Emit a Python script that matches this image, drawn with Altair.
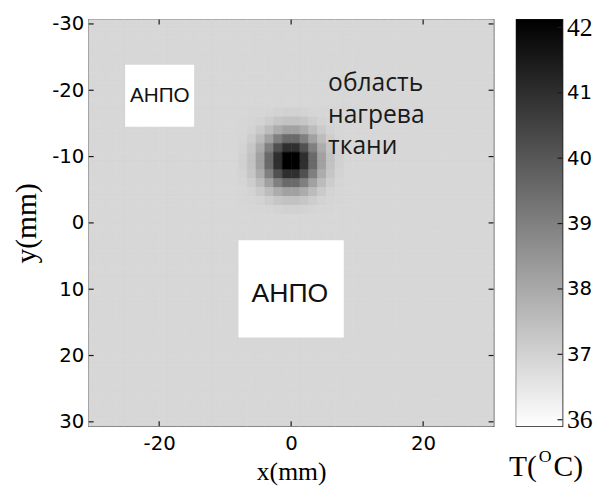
import altair as alt
import pandas as pd

# ---------------- data ----------------
# temperature grid: 46 x 46 cells, 4/3 mm step, centres from -30 to 30 mm
grid_start = -30.0
grid_step = 4.0 / 3.0
grid_n = 46
background_T = 36.95

# heated spot (12 x 12 cells), placed from row index 10 and column index 17
spot_row0 = 10
spot_col0 = 17
spot_patch = [
    [36.95, 36.96, 36.97, 36.99, 37.04, 37.08, 37.08, 37.04, 36.99, 36.97, 36.96, 36.95],
    [36.96, 36.98, 37.04, 37.18, 37.33, 37.44, 37.44, 37.33, 37.18, 37.04, 36.98, 36.96],
    [36.97, 37.04, 37.25, 37.58, 37.96, 38.20, 38.20, 37.96, 37.58, 37.25, 37.04, 36.97],
    [36.99, 37.18, 37.58, 38.20, 39.00, 39.50, 39.50, 39.00, 38.20, 37.58, 37.18, 36.99],
    [37.04, 37.33, 37.96, 39.00, 40.10, 40.90, 40.90, 40.10, 39.00, 37.96, 37.33, 37.04],
    [37.08, 37.44, 38.20, 39.50, 40.90, 42.00, 42.00, 40.90, 39.50, 38.20, 37.44, 37.08],
    [37.08, 37.44, 38.20, 39.50, 40.90, 42.00, 42.00, 40.90, 39.50, 38.20, 37.44, 37.08],
    [37.04, 37.33, 37.96, 39.00, 40.10, 40.90, 40.90, 40.10, 39.00, 37.96, 37.33, 37.04],
    [36.99, 37.18, 37.58, 38.20, 39.00, 39.50, 39.50, 39.00, 38.20, 37.58, 37.18, 36.99],
    [36.97, 37.04, 37.25, 37.58, 37.96, 38.20, 38.20, 37.96, 37.58, 37.25, 37.04, 36.97],
    [36.96, 36.98, 37.04, 37.18, 37.33, 37.44, 37.44, 37.33, 37.18, 37.04, 36.98, 36.96],
    [36.95, 36.96, 36.97, 36.99, 37.04, 37.08, 37.08, 37.04, 36.99, 36.97, 36.96, 36.95],
]

# white "АНПО" areas (mm)
anpo_x1 = [-25.15, -7.98]
anpo_x2 = [-14.70, 7.98]
anpo_y1 = [-23.83, 2.60]
anpo_y2 = [-14.48, 17.30]
anpo_label = "АНПО"
anpo_small_pos = [-19.9, -18.24]
anpo_big_pos = [-0.2, 11.95]

annotation_lines = ["область", "нагрева", "ткани"]
annotation_pos = [5.6, -19.83]
annotation_line_step = 4.7  # mm between baselines

x_ticks = [-20, 0, 20]
y_ticks = [-30, -20, -10, 0, 10, 20, 30]
cbar_ticks = [36, 37, 38, 39, 40, 41, 42]
T_range = [36, 42]
cbar_limits = [35.9, 42.12]
cbar_title_parts = ["T(", "O", "C)"]

x_title = "x(mm)"
y_title = "y(mm)"

# ---------------- tables ----------------
half = grid_step / 2
lim = grid_start - half
rows = []
for r in range(grid_n):
    for c in range(grid_n):
        T = background_T
        pr, pc = r - spot_row0, c - spot_col0
        if 0 <= pr < len(spot_patch) and 0 <= pc < len(spot_patch[0]):
            T = spot_patch[pr][pc]
        xc = grid_start + c * grid_step
        yc = grid_start + r * grid_step
        rows.append({"x1": xc - half, "x2": xc + half, "y1": yc - half, "y2": yc + half, "T": T})
grid_df = pd.DataFrame(rows)

anpo_df = pd.DataFrame({"x1": anpo_x1, "x2": anpo_x2, "y1": anpo_y1, "y2": anpo_y2})
annot_df = pd.DataFrame({
    "t": annotation_lines,
    "x": [annotation_pos[0]] * len(annotation_lines),
    "y": [annotation_pos[1] + i * annotation_line_step for i in range(len(annotation_lines))],
})

W, H = 411, 413
CB_W = 47
FRAME = "#1a1a1a"

xscale = alt.Scale(domain=[lim, -lim], nice=False, zero=False)
yscale = alt.Scale(domain=[lim, -lim], nice=False, zero=False, reverse=True)

xaxis = alt.Axis(values=x_ticks, ticks=False, domain=False, grid=False,
                 labelExpr="toString(datum.value)", labelFont="DejaVu Sans",
                 labelFontSize=20, labelColor="black", labelPadding=8,
                 titleFont="Liberation Serif", titleFontSize=26, titleFontWeight="normal",
                 titleColor="black", titlePadding=5)
yaxis = alt.Axis(values=y_ticks, ticks=False, domain=False, grid=False,
                 labelExpr="toString(datum.value)", labelFont="DejaVu Sans",
                 labelFontSize=20, labelColor="black", labelPadding=5,
                 titleFont="Liberation Serif", titleFontSize=30, titleFontWeight="normal",
                 titleColor="black", titlePadding=10)


def X(field):
    return alt.X(field, type="quantitative", scale=xscale, axis=xaxis, title=x_title)


def Y(field):
    return alt.Y(field, type="quantitative", scale=yscale, axis=yaxis, title=y_title)


color_scale = alt.Scale(domain=T_range, range=["#ffffff", "#000000"], interpolate="rgb", clamp=True)

heat = alt.Chart(grid_df).mark_rect(strokeWidth=0.6).encode(
    x=X("x1"), x2="x2", y=Y("y1"), y2="y2",
    fill=alt.Color("T:Q", scale=color_scale, legend=None),
    stroke=alt.Color("T:Q", scale=color_scale, legend=None),
)

white = alt.Chart(anpo_df).mark_rect(fill="white").encode(
    x=X("x1"), x2="x2", y=Y("y1"), y2="y2"
)

small_lbl = alt.Chart(pd.DataFrame({"x": [anpo_small_pos[0]], "y": [anpo_small_pos[1]], "t": [anpo_label]})).mark_text(
    font="Liberation Sans", fontSize=21, color="#111", align="center", baseline="alphabetic"
).encode(x=X("x"), y=Y("y"), text="t:N")

big_lbl = alt.Chart(pd.DataFrame({"x": [anpo_big_pos[0]], "y": [anpo_big_pos[1]], "t": [anpo_label]})).mark_text(
    font="Liberation Sans", fontSize=27, color="#111", align="center", baseline="alphabetic"
).encode(x=X("x"), y=Y("y"), text="t:N")

annot = alt.Chart(annot_df).mark_text(
    font="Open Sans", fontSize=25, color="#1a1a1a", align="left", baseline="alphabetic"
).encode(x=X("x"), y=Y("y"), text="t:N")

xt_df = pd.DataFrame({"v": x_ticks})
yt_df = pd.DataFrame({"v": y_ticks})
tick_style = dict(color=FRAME, strokeWidth=1.2)
ticks_bottom = alt.Chart(xt_df).mark_rule(**tick_style).encode(x=X("v"), y=alt.value(H), y2=alt.value(H - 5))
ticks_top = alt.Chart(xt_df).mark_rule(**tick_style).encode(x=X("v"), y=alt.value(0), y2=alt.value(5))
ticks_left = alt.Chart(yt_df).mark_rule(**tick_style).encode(y=Y("v"), x=alt.value(0), x2=alt.value(5))
ticks_right = alt.Chart(yt_df).mark_rule(**tick_style).encode(y=Y("v"), x=alt.value(W), x2=alt.value(W - 5))

main = alt.layer(heat, white, small_lbl, big_lbl, annot,
                 ticks_bottom, ticks_top, ticks_left, ticks_right).properties(width=W, height=H)

# ---------------- colour bar ----------------
cb_scale = alt.Scale(domain=cbar_limits, nice=False, zero=False)
cb_axis = alt.Axis(
    orient="right", values=cbar_ticks, ticks=False, domain=False, grid=False, title=None,
    labelExpr="toString(datum.value)", labelColor="black", labelPadding=4,
    labelFont={"condition": {"test": "datum.value == 42 || datum.value == 36", "value": "Liberation Serif"},
               "value": "DejaVu Sans"},
    labelFontSize={"condition": {"test": "datum.value == 42 || datum.value == 36", "value": 26},
                   "value": 20},
)
gradient = alt.LinearGradient(
    gradient="linear",
    stops=[alt.GradientStop(color="#ffffff", offset=0), alt.GradientStop(color="#000000", offset=1)],
    x1=0, x2=0, y1=1, y2=0,
)
cb_bar = alt.Chart(pd.DataFrame({"lo": [cbar_limits[0]], "hi": [cbar_limits[1]]})).mark_rect(fill=gradient).encode(
    y=alt.Y("lo:Q", scale=cb_scale, axis=cb_axis), y2="hi", x=alt.value(0), x2=alt.value(CB_W)
)
cb_ticks = alt.Chart(pd.DataFrame({"v": cbar_ticks})).mark_rule(**tick_style).encode(
    y=alt.Y("v:Q", scale=cb_scale, axis=cb_axis), x=alt.value(CB_W), x2=alt.value(CB_W - 5)
)
t1 = alt.Chart(pd.DataFrame({"t": [cbar_title_parts[0]]})).mark_text(
    font="Liberation Serif", fontSize=30, color="black", align="right", baseline="alphabetic"
).encode(x=alt.value(21), y=alt.value(H + 51), text="t:N")
t2 = alt.Chart(pd.DataFrame({"t": [cbar_title_parts[1]]})).mark_text(
    font="Liberation Serif", fontSize=18, color="black", align="left", baseline="alphabetic"
).encode(x=alt.value(23), y=alt.value(H + 36), text="t:N")
t3 = alt.Chart(pd.DataFrame({"t": [cbar_title_parts[2]]})).mark_text(
    font="Liberation Serif", fontSize=30, color="black", align="left", baseline="alphabetic"
).encode(x=alt.value(38), y=alt.value(H + 51), text="t:N")

cbar = alt.layer(cb_bar, cb_ticks, t1, t2, t3).properties(width=CB_W, height=H)

chart = alt.hconcat(main, cbar, spacing=13).properties(
    padding={"left": 3, "top": 1, "right": 0, "bottom": 0},
    background="white",
).configure_view(stroke=FRAME, strokeWidth=1.3)

chart.save("out.html", embed_options={"renderer": "svg", "actions": False})
